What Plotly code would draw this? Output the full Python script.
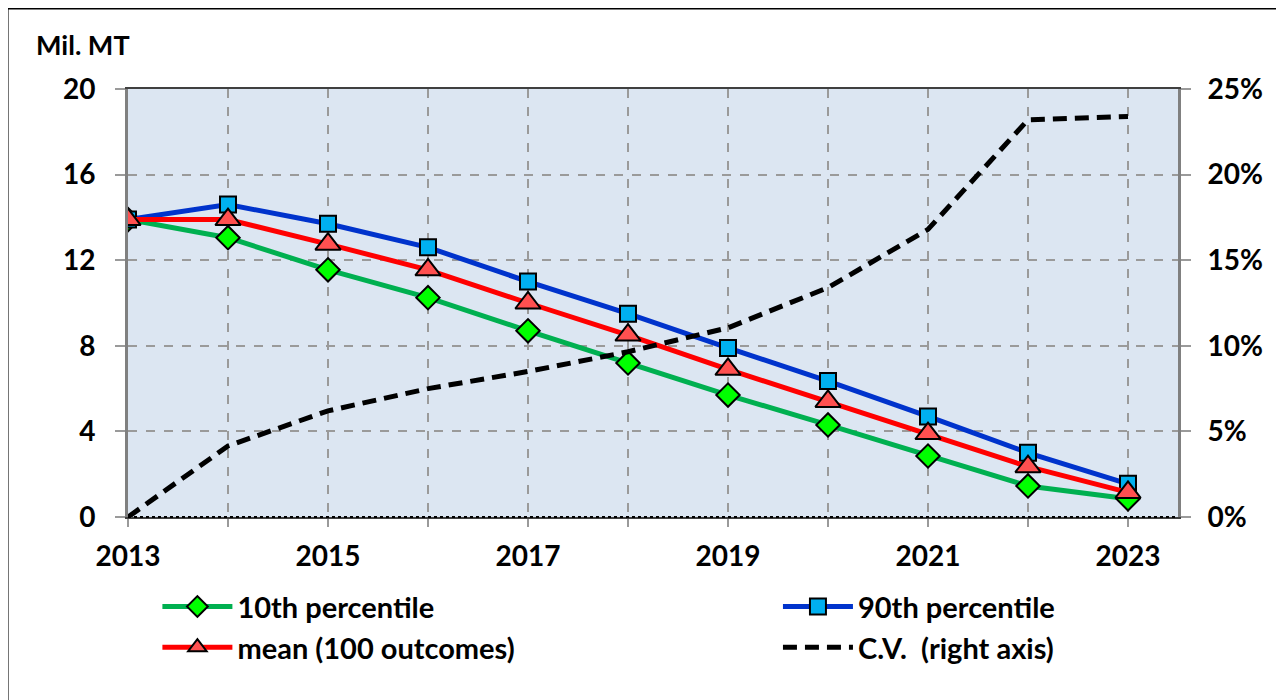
import plotly.graph_objects as go

# ── Data ────────────────────────────────────────────────────────────────────
years = list(range(2013, 2024))
p10 = [13.9, 13.05, 11.55, 10.25, 8.7, 7.2, 5.7, 4.3, 2.85, 1.45, 0.85]
p90 = [13.9, 14.6, 13.7, 12.6, 11.0, 9.5, 7.9, 6.35, 4.7, 3.0, 1.55]
mean = [13.9, 13.9, 12.75, 11.55, 10.0, 8.5, 6.9, 5.4, 3.9, 2.35, 1.15]
cv = [0.0, 4.15, 6.2, 7.5, 8.5, 9.65, 11.05, 13.4, 16.8, 23.2, 23.4]

y_ticks = [0, 4, 8, 12, 16, 20]
y2_ticks = [0, 5, 10, 15, 20, 25]
y2_labels = [f"{v}%" for v in y2_ticks]
x_labels = [str(y) if y % 2 == 1 else "" for y in years]

FONT = "Lato"
GRID = "#9a9a9a"
LEG_FONT = dict(family=FONT, size=29, color="black", weight="bold")

fig = go.Figure()

fig.add_trace(go.Scatter(
    x=years, y=p10, name="10th percentile", mode="lines+markers", legend="legend",
    line=dict(color="#00B050", width=5),
    marker=dict(symbol="diamond", size=18, color="#00FF00",
                line=dict(color="black", width=2)),
))
fig.add_trace(go.Scatter(
    x=years, y=p90, name="90th percentile", mode="lines+markers", legend="legend2",
    line=dict(color="#0033CC", width=5),
    marker=dict(symbol="square", size=16, color="#00B0F0",
                line=dict(color="black", width=2)),
))
fig.add_trace(go.Scatter(
    x=years, y=mean, name="mean (100 outcomes)", mode="lines+markers", legend="legend",
    line=dict(color="#FF0000", width=5),
    marker=dict(symbol="triangle-up", size=22, color="#FF5050",
                line=dict(color="black", width=2)),
))
fig.add_trace(go.Scatter(
    x=years, y=cv, name="C.V.  (right axis)", mode="lines", yaxis="y2", legend="legend2",
    line=dict(color="black", width=5, dash="14px,8px"),
))

# dotted baseline along the bottom of the plot area
fig.add_shape(type="line", xref="paper", yref="paper", x0=0, x1=1, y0=0, y1=0,
              line=dict(color="black", width=2, dash="dot"), layer="above")
# outer frame round the whole chart (bottom edge falls just off the page)
fig.add_shape(type="rect", xref="paper", yref="paper",
              x0=-0.1152, x1=1.0971, y0=-0.45, y1=1.1893,
              line=dict(color="black", width=3), layer="below")

fig.add_annotation(text="<b>Mil. MT</b>", xref="paper", yref="paper",
                   x=-0.0895, y=1.104, xanchor="left", yanchor="middle",
                   showarrow=False, font=dict(family=FONT, size=27, color="black"))

legend_common = dict(
    orientation="v", yanchor="top", xanchor="left", y=-0.15,
    font=LEG_FONT, bgcolor="rgba(0,0,0,0)", tracegroupgap=0, itemwidth=70,
)

# the page body has an 8px margin, so the figure is 8px smaller each way
fig.update_layout(
    width=1276, height=692,
    margin=dict(l=120, r=106, t=81, b=183, autoexpand=False),
    paper_bgcolor="white",
    plot_bgcolor="#DCE6F2",
    font=dict(family=FONT, size=28, color="black", weight="bold"),
    showlegend=True,
    legend=dict(x=0.028, **legend_common),
    legend2=dict(x=0.619, **legend_common),
    xaxis=dict(
        range=[2013, 2023.5], tickvals=years, ticktext=x_labels,
        showgrid=True, gridcolor=GRID, griddash="dash", gridwidth=1.5,
        ticks="outside", ticklen=8, tickcolor=GRID, tickwidth=1.5,
        ticklabelstandoff=5, zeroline=False, automargin=False,
        showline=True, mirror=True, linecolor="#404040", linewidth=2,
    ),
    yaxis=dict(
        range=[0, 20], tickvals=y_ticks,
        showgrid=True, gridcolor=GRID, griddash="dash", gridwidth=1.5,
        ticks="outside", ticklen=10, tickcolor=GRID, tickwidth=1.5,
        ticklabelstandoff=14, zeroline=False, automargin=False,
        showline=True, linecolor="#808080", linewidth=3,
    ),
    yaxis2=dict(
        range=[0, 25], tickvals=y2_ticks, ticktext=y2_labels,
        overlaying="y", side="right", showgrid=False,
        ticks="outside", ticklen=10, tickcolor=GRID, tickwidth=1.5,
        ticklabelstandoff=11, zeroline=False, automargin=False,
        showline=True, linecolor="#808080", linewidth=3,
    ),
)

fig.write_html("out.html")
